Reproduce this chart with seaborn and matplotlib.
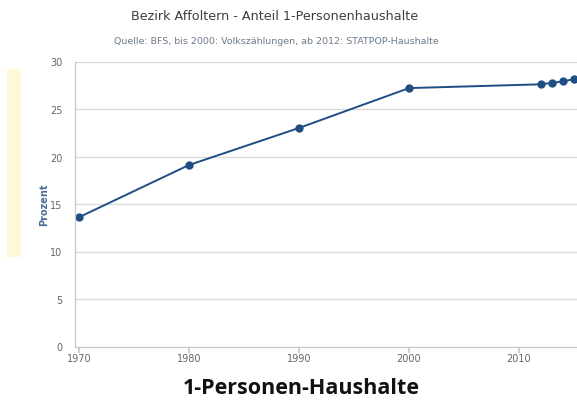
import matplotlib
matplotlib.use("Agg")
import matplotlib.pyplot as plt
import seaborn as sns
import pandas as pd
from matplotlib.patches import Rectangle

years = [1970, 1980, 1990, 2000, 2012, 2013, 2014, 2015]
anteil = [13.6, 19.1, 23.0, 27.2, 27.6, 27.75, 27.9, 28.15]
y_ticks = [0, 5, 10, 15, 20, 25, 30]
x_ticks = [1970, 1980, 1990, 2000, 2010]

title = "Bezirk Affoltern - Anteil 1-Personenhaushalte"
subtitle = "Quelle: BFS, bis 2000: Volkszählungen, ab 2012: STATPOP-Haushalte"
ylabel = "Prozent"
caption = "1-Personen-Haushalte"

sns.set_theme(style="white")
plt.rcParams['font.family'] = ['DejaVu Sans']

df = pd.DataFrame({"Jahr": years, "Anteil": anteil})

W, H = 577, 406
fig = plt.figure(figsize=(W / 100, H / 100), dpi=100)
ax = fig.add_axes([75 / W, 1 - 347.5 / H, 1 - 75 / W, (347.5 - 62.5) / H])

line_color = "#1f4e85"
sns.lineplot(data=df, x="Jahr", y="Anteil", ax=ax, color=line_color,
             marker="o", markersize=6, markeredgewidth=0, linewidth=1.4,
             clip_on=False)

ax.set_xlim(1969.65, 2015.27)
ax.set_ylim(0, 30)
ax.set_yticks(y_ticks)
ax.set_xticks(x_ticks)
ax.set_yticklabels([str(v) for v in y_ticks])
ax.set_xticklabels([str(v) for v in x_ticks])
ax.yaxis.grid(True, color="#d9d9d9", linewidth=0.9)
ax.xaxis.grid(False)
for s in ["top", "right"]:
    ax.spines[s].set_visible(False)
for s in ["left", "bottom"]:
    ax.spines[s].set_color("#c8c8c8")
    ax.spines[s].set_linewidth(0.9)
ax.tick_params(axis="y", length=0, labelsize=7, labelcolor="#666666", pad=9)
ax.tick_params(axis="x", length=4, color="#c8c8c8", labelsize=7,
               labelcolor="#666666", pad=1, direction="out", bottom=True)
ax.set_xlabel("")
ax.set_ylabel("")

fig.text(44 / W, 1 - 205 / H, ylabel, rotation=90, ha="center", va="center",
         fontsize=7, color="#4d6d9a", fontweight="bold")

fig.text(275 / W, 1 - 17 / H, title, ha="center", va="center",
         fontsize=9.2, color="#3e3e3e")
fig.text(276 / W, 1 - 41 / H, subtitle, ha="center", va="center",
         fontsize=6.8, color="#6b7a89")

fig.text(301 / W, 1 - 389 / H, caption, ha="center", va="center",
         fontsize=15.5, color="#111111", fontweight="bold",
         family=["Open Sans", "DejaVu Sans"])

fig.patches.append(Rectangle((7 / W, 1 - 258 / H), 14 / W, 188 / H,
                             transform=fig.transFigure, facecolor="#fff8d8",
                             edgecolor="none"))

fig.savefig("out.png", dpi=100)
